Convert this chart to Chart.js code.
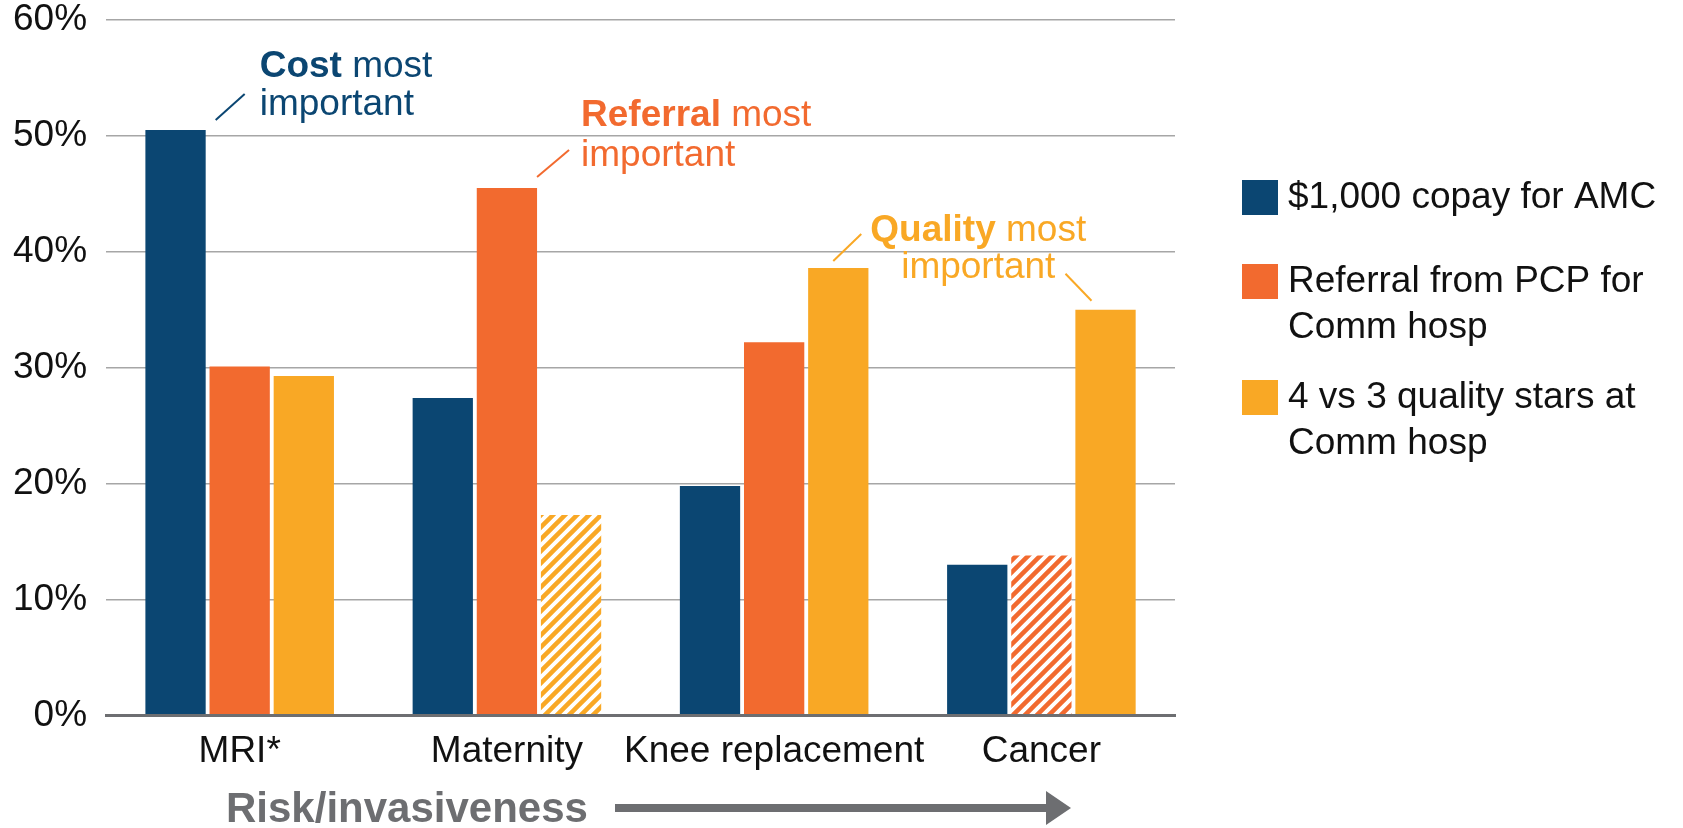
<!DOCTYPE html>
<html>
<head>
<meta charset="utf-8">
<script src="https://cdn.jsdelivr.net/npm/chart.js@4/dist/chart.umd.min.js"></script>
<style>
  body { margin: 0; background: #fff; }
  #wrap { width: 1683px; height: 828px; }
</style>
</head>
<body>
<div id="wrap"><canvas id="graficoPreferencias" width="1683" height="828"></canvas></div>
<script>
const categorias = ['MRI*', 'Maternity', 'Knee replacement', 'Cancer'];
const copagoAMC = [50.5, 27.4, 19.8, 13.0];
const referenciaPCP = [30.1, 45.5, 32.2, 13.8];
const estrellasCalidad = [29.3, 17.3, 38.6, 35.0];
// bars drawn hatched (not significant)
const copagoRayado = [false, false, false, false];
const referenciaRayado = [false, false, false, true];
const calidadRayado = [false, true, false, false];
const etiquetasLeyenda = [
    ['$1,000 copay for AMC'],
    ['Referral from PCP for', 'Comm hosp'],
    ['4 vs 3 quality stars at', 'Comm hosp']
];
const yMin = 0, yMax = 60, yPaso = 10;
const tituloEje = 'Risk/invasiveness';

const AZUL = '#0b4672';
const NARANJA = '#f26a2f';
const AMARILLO = '#f9a825';
const FUENTE = "'Liberation Sans', Arial, sans-serif";

function rayado(color) {
    const s = 12;
    const c = document.createElement('canvas');
    c.width = s; c.height = s;
    const x = c.getContext('2d');
    x.fillStyle = '#fff';
    x.fillRect(0, 0, s, s);
    x.strokeStyle = color;
    x.lineWidth = 4.5;
    x.beginPath();
    x.moveTo(-s / 2, s / 2); x.lineTo(s / 2, -s / 2);
    x.moveTo(0, s); x.lineTo(s, 0);
    x.moveTo(s / 2, s * 1.5); x.lineTo(s * 1.5, s / 2);
    x.stroke();
    return x.createPattern(c, 'repeat');
}

const relleno = (color, rayas) => {
    const patron = rayado(color);
    return ctx => rayas[ctx.dataIndex] ? patron : color;
};

function textoRico(ctx, partes, x, y, align) {
    let total = 0;
    partes.forEach(p => {
        ctx.font = (p.bold ? 'bold ' : '') + '37px ' + FUENTE;
        total += ctx.measureText(p.t).width;
    });
    let cx = align === 'center' ? x - total / 2 : x;
    ctx.textAlign = 'left';
    partes.forEach(p => {
        ctx.font = (p.bold ? 'bold ' : '') + '37px ' + FUENTE;
        ctx.fillText(p.t, cx, y);
        cx += ctx.measureText(p.t).width;
    });
}

function linea(ctx, x1, y1, x2, y2) {
    ctx.beginPath();
    ctx.moveTo(x1, y1);
    ctx.lineTo(x2, y2);
    ctx.stroke();
}

const extras = {
    id: 'extras',
    afterDatasetsDraw(chart) {
        const ctx = chart.ctx;
        const area = chart.chartArea;
        ctx.save();
        ctx.textBaseline = 'middle';
        ctx.lineWidth = 2;

        // Cost callout
        let b = chart.getDatasetMeta(0).data[0];
        let r = b.x + b.width / 2;
        ctx.strokeStyle = AZUL; ctx.fillStyle = AZUL;
        linea(ctx, r + 10, b.y - 10, r + 39, b.y - 36);
        textoRico(ctx, [{t: 'Cost', bold: true}, {t: ' most'}], r + 54, b.y - 63, 'left');
        textoRico(ctx, [{t: 'important'}], r + 54, b.y - 25, 'left');

        // Referral callout
        b = chart.getDatasetMeta(1).data[1];
        r = b.x + b.width / 2;
        ctx.strokeStyle = NARANJA; ctx.fillStyle = NARANJA;
        linea(ctx, r, b.y - 11, r + 32, b.y - 38);
        textoRico(ctx, [{t: 'Referral', bold: true}, {t: ' most'}], r + 44, b.y - 72, 'left');
        textoRico(ctx, [{t: 'important'}], r + 44, b.y - 32, 'left');

        // Quality callout
        b = chart.getDatasetMeta(2).data[2];
        const b2 = chart.getDatasetMeta(2).data[3];
        ctx.strokeStyle = AMARILLO; ctx.fillStyle = AMARILLO;
        linea(ctx, b.x - 5, b.y - 7, b.x + 23, b.y - 34);
        linea(ctx, b2.x - 40, b2.y - 36, b2.x - 14, b2.y - 9);
        textoRico(ctx, [{t: 'Quality', bold: true}, {t: ' most'}], b.x + 140, b.y - 37, 'center');
        textoRico(ctx, [{t: 'important'}], b.x + 140, b.y, 'center');

        // legend
        const colores = [AZUL, NARANJA, AMARILLO];
        const lx = area.right + 67;
        const ys = [198, 282, 398];
        ctx.font = '37px ' + FUENTE;
        etiquetasLeyenda.forEach((lineas, i) => {
            ctx.fillStyle = colores[i];
            ctx.fillRect(lx, ys[i] - 18, 36, 35);
            ctx.fillStyle = '#111';
            lineas.forEach((t, j) => ctx.fillText(t, lx + 46, ys[i] + j * 46));
        });

        // axis title with arrow
        const gris = '#6d6e71';
        ctx.fillStyle = gris;
        ctx.font = 'bold 42px ' + FUENTE;
        ctx.textBaseline = 'alphabetic';
        ctx.fillText(tituloEje, 226, 822);
        const ay = 808;
        ctx.fillRect(615, ay - 4, 435, 8);
        ctx.beginPath();
        ctx.moveTo(1046, ay - 17);
        ctx.lineTo(1071, ay);
        ctx.lineTo(1046, ay + 17);
        ctx.closePath();
        ctx.fill();
        ctx.restore();
    }
};

const ctx = document.getElementById('graficoPreferencias');
new Chart(ctx, {
    type: 'bar',
    data: {
        labels: categorias,
        datasets: [
            {label: etiquetasLeyenda[0].join(' '), data: copagoAMC, backgroundColor: relleno(AZUL, copagoRayado)},
            {label: etiquetasLeyenda[1].join(' '), data: referenciaPCP, backgroundColor: relleno(NARANJA, referenciaRayado)},
            {label: etiquetasLeyenda[2].join(' '), data: estrellasCalidad, backgroundColor: relleno(AMARILLO, calidadRayado)}
        ]
    },
    options: {
        responsive: false,
        animation: false,
        categoryPercentage: 0.72,
        barPercentage: 0.94,
        layout: {padding: {left: -6, right: 508, top: 0, bottom: 48}},
        plugins: {
            legend: {display: false},
            tooltip: {enabled: false}
        },
        scales: {
            x: {
                grid: {display: false},
                border: {color: '#6d6e71', width: 3},
                ticks: {color: '#111', padding: 6, autoSkip: false, font: {family: FUENTE, size: 37}, maxRotation: 0}
            },
            y: {
                min: yMin,
                max: yMax,
                border: {display: false},
                grid: {
                    drawTicks: false,
                    color: c => c.tick.value === 0 ? '#6d6e71' : '#a6a6a6',
                    lineWidth: c => c.tick.value === 0 ? 3 : 1.5
                },
                ticks: {
                    stepSize: yPaso,
                    padding: 19,
                    color: '#111',
                    font: {family: FUENTE, size: 37, lineHeight: 0.05},
                    callback: v => v + '%'
                }
            }
        }
    },
    plugins: [extras]
});
</script>
</body>
</html>
